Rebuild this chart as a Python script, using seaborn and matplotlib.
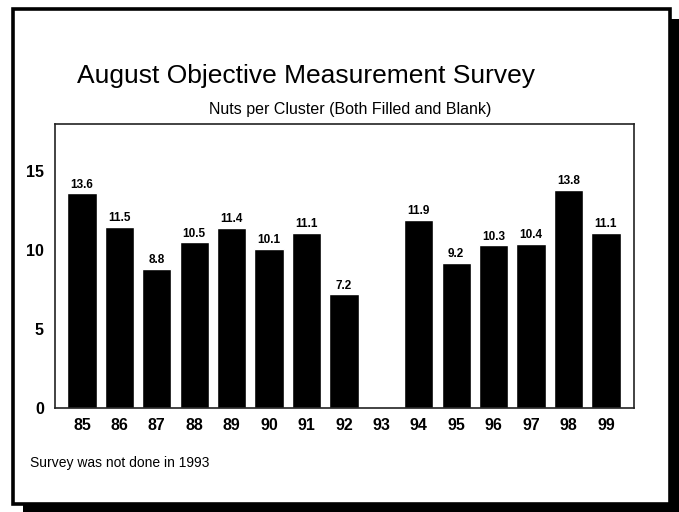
import pandas as pd
import seaborn as sns
import matplotlib.pyplot as plt
from matplotlib.patches import Rectangle

years = ["85", "86", "87", "88", "89", "90", "91", "92", "93",
         "94", "95", "96", "97", "98", "99"]
nuts = [13.6, 11.5, 8.8, 10.5, 11.4, 10.1, 11.1, 7.2, None,
        11.9, 9.2, 10.3, 10.4, 13.8, 11.1]
y_ticks = [0, 5, 10, 15]

W, H = 679, 512


def fx(px):
    return px / W


def fy(py):
    return 1 - py / H


sns.set_theme(style="white")
plt.rcParams['font.family'] = ['Liberation Sans', 'DejaVu Sans']
plt.rcParams['text.color'] = 'black'
plt.rcParams['xtick.color'] = 'black'
plt.rcParams['ytick.color'] = 'black'

df = pd.DataFrame({"Year": years, "Nuts": nuts})

fig = plt.figure(figsize=(W / 100, H / 100), dpi=100)
fig.patch.set_facecolor("white")

# drop shadow + framed panel
shadow = Rectangle((fx(23), fy(530)), fx(700), fy(19) - fy(530),
                   transform=fig.transFigure, facecolor="black",
                   edgecolor="none", zorder=-3)
frame = Rectangle((fx(12.5), fy(503.5)), fx(669.5) - fx(12.5), fy(8.5) - fy(503.5),
                  transform=fig.transFigure, facecolor="white",
                  edgecolor="black", linewidth=2.6, zorder=-2)
fig.add_artist(shadow)
fig.add_artist(frame)

ax = fig.add_axes([fx(55), fy(408), fx(634) - fx(55), fy(124) - fy(408)])
ax.set_zorder(1)

sns.barplot(data=df, x="Year", y="Nuts", order=years, color="black",
            saturation=1, width=0.78, ax=ax)
ax.bar_label(ax.containers[0], fmt="%.1f", padding=2,
             fontsize=8.5, fontweight="bold")

ax.set_ylim(0, 18)
ax.set_xlim(-0.72, 14.75)
ax.set_yticks(y_ticks)
ax.set_xlabel("")
ax.set_ylabel("")
ax.tick_params(axis="both", length=0, labelsize=11.5)
ax.tick_params(axis="y", pad=8)
ax.tick_params(axis="x", pad=7)
for lbl in ax.get_xticklabels() + ax.get_yticklabels():
    lbl.set_fontweight("bold")
for sp in ax.spines.values():
    sp.set_visible(True)
    sp.set_color("#222222")
    sp.set_linewidth(1.2)

fig.text(fx(306), fy(83), "August Objective Measurement Survey",
         ha="center", va="baseline", fontsize=19)
fig.text(fx(350), fy(114), "Nuts per Cluster (Both Filled and Blank)",
         ha="center", va="baseline", fontsize=11.5)
fig.text(fx(30), fy(467), "Survey was not done in 1993",
         ha="left", va="baseline", fontsize=10)

fig.savefig("out.png", dpi=100, facecolor="white")
